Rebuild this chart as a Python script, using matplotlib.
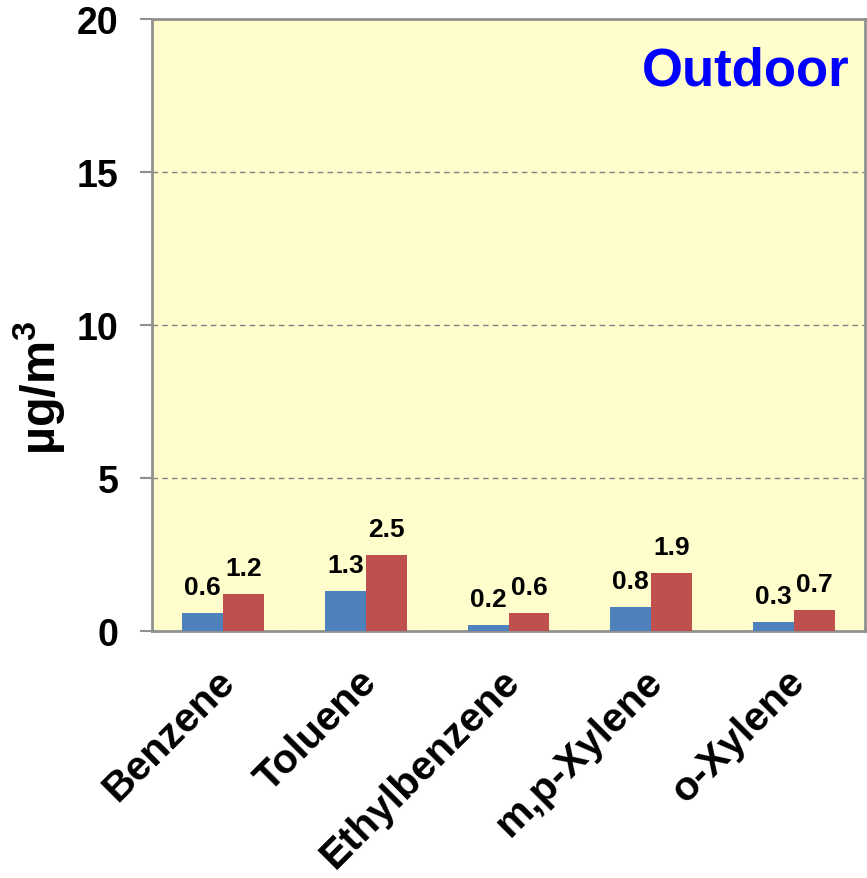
import matplotlib
matplotlib.use("Agg")
import matplotlib.pyplot as plt
import matplotlib.transforms as mtransforms
import numpy as np

plt.rcParams['font.family'] = ['Liberation Sans', 'DejaVu Sans']
plt.rcParams['font.weight'] = 'bold'
plt.rcParams['mathtext.fontset'] = 'custom'
plt.rcParams['mathtext.bf'] = 'Liberation Sans:bold'
plt.rcParams['mathtext.rm'] = 'Liberation Sans:bold'

compounds = ["Benzene", "Toluene", "Ethylbenzene", "m,p-Xylene", "o-Xylene"]
series_a = [0.6, 1.3, 0.2, 0.8, 0.3]
series_b = [1.2, 2.5, 0.6, 1.9, 0.7]
yticks = [0, 5, 10, 15, 20]

fig = plt.figure(figsize=(8.67, 8.79), dpi=100)
ax = fig.add_axes([152/867, 1 - 632/879, 713/867, 612/879])
ax.set_facecolor("#FFFDCC")

x = np.arange(len(compounds))
w = 0.287
ba = ax.bar(x - w/2, series_a, w, color="#4F81BD", zorder=3)
bb = ax.bar(x + w/2, series_b, w, color="#C0504D", zorder=3)

for bars, vals in ((ba, series_a), (bb, series_b)):
    for rect, v in zip(bars, vals):
        ax.annotate(f"{v:.1f}", (rect.get_x() + rect.get_width()/2, v),
                    xytext=(0, 10), textcoords="offset points",
                    ha="center", va="bottom", fontsize=19, fontweight="bold")

ax.set_xlim(-0.5, len(compounds) - 0.5)
ax.set_ylim(0, 20)
ax.set_yticks(yticks)
ax.set_yticklabels([str(t) for t in yticks], fontsize=27, fontweight="bold")
ax.yaxis.grid(True, linestyle=(0, (4, 3)), color="#808080", linewidth=1, zorder=0)
ax.tick_params(axis="y", length=9, width=1.5, color="#909090", pad=15)
ax.tick_params(axis="x", length=0, pad=22)
ax.set_xticks(x)
ax.set_xticklabels(compounds, rotation=45, ha="right", va="top",
                   rotation_mode="anchor", fontsize=29.5, fontweight="bold")
shift = mtransforms.ScaledTranslation(-6/72, 0, fig.dpi_scale_trans)
for lbl in ax.get_xticklabels():
    lbl.set_transform(lbl.get_transform() + shift)

for s in ax.spines.values():
    s.set_color("#909090")
    s.set_linewidth(2)

ax.set_ylabel("µg/m$^\\mathbf{3}$", fontsize=35, fontweight="bold")
ax.yaxis.set_label_coords(-0.118, 0.40)

ax.text(0.978, 0.956, "Outdoor", transform=ax.transAxes, ha="right", va="top",
        color="#0000FF", fontsize=38, fontweight="bold")

fig.savefig("out.png", dpi=100)
